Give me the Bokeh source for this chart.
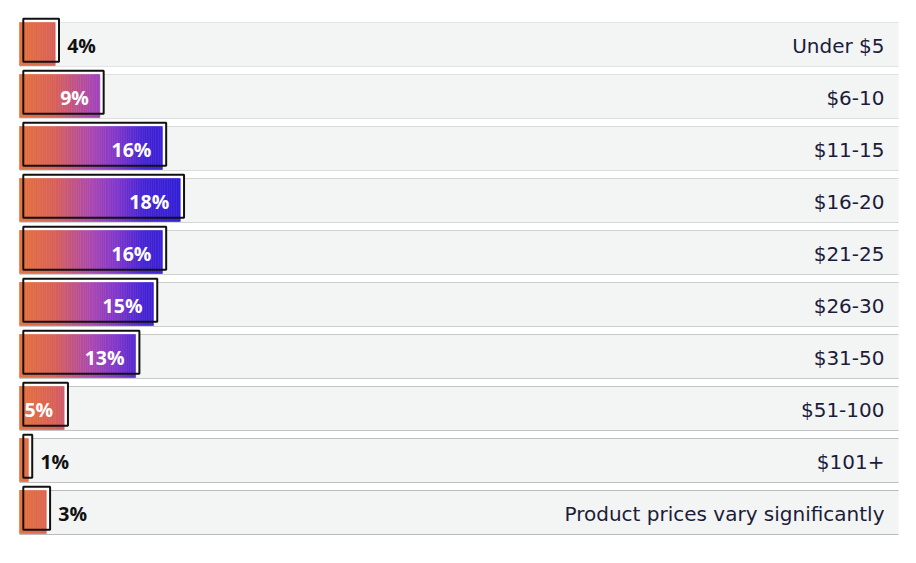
import math
from bokeh.plotting import figure
from bokeh.models import Range1d, ColumnDataSource
from bokeh.core.properties import value
from bokeh.embed import file_html
from bokeh.resources import INLINE

# ---- data ----
categories = ["Under $5", "$6-10", "$11-15", "$16-20", "$21-25", "$26-30",
              "$31-50", "$51-100", "$101+", "Product prices vary significantly"]
shares = [4, 9, 16, 18, 16, 15, 13, 5, 1, 3]
share_labels = ["4%", "9%", "16%", "18%", "16%", "15%", "13%", "5%", "1%", "3%"]

# ---- layout constants (pixels -> data units) ----
W, H = 900, 545
PX_PER_PCT = 8.93
ROW_PX = 52.0
x0 = -19.0 / PX_PER_PCT
x1 = x0 + W / PX_PER_PCT
y_top = (0 - 44) / ROW_PX
y_bot = (H - 44) / ROW_PX

p = figure(width=W, height=H, output_backend="svg", toolbar_location=None,
           x_range=Range1d(x0, x1), y_range=Range1d(y_bot, y_top),
           min_border=0, min_border_left=0, min_border_right=0,
           min_border_top=0, min_border_bottom=0)
p.axis.visible = False
p.grid.visible = False
p.outline_line_color = None
p.background_fill_color = "white"
p.border_fill_color = "white"

n = len(categories)
rows = list(range(n))
band_right = (898 - 19) / PX_PER_PCT
half_band = 22 / ROW_PX

# background bands
p.quad(left=[0] * n, right=[band_right] * n,
       top=[r - half_band for r in rows], bottom=[r + half_band for r in rows],
       fill_color="#f3f4f4", line_color=None)

# border lines (slightly darker toward the bottom)
def grey(i):
    g = int(round(0xe4 + (0xba - 0xe4) * i / (n - 1)))
    return "#%02x%02x%02x" % (g, g, g)

seg_y, seg_c = [], []
for r in rows:
    seg_y += [r - half_band, r + half_band]
    seg_c += [grey(r), grey(r)]
p.segment(x0=[0] * len(seg_y), x1=[band_right] * len(seg_y), y0=seg_y, y1=seg_y,
          line_color=seg_c, line_width=1.2)

# offset outline boxes
dx = 3.8 / PX_PER_PCT
dy = -3.8 / ROW_PX
fill_top = [r - half_band for r in rows]
fill_bot = [r + 21 / ROW_PX for r in rows]
ob = dict(left=[dx] * n, right=[v + dx for v in shares],
          top=[t + dy for t in fill_top], bottom=[b + dy for b in fill_bot])
p.quad(**ob, fill_color="white", line_color=None)

# gradient fill (by absolute position)
stops = [(0, (230, 114, 60)), (4, (216, 96, 88)), (8, (172, 72, 176)),
         (11, (126, 54, 204)), (14, (68, 36, 212)), (19, (45, 30, 215))]

def grad(x):
    for (a, ca), (b, cb) in zip(stops[:-1], stops[1:]):
        if x <= b:
            t = (x - a) / (b - a)
            c = [int(round(ca[k] + (cb[k] - ca[k]) * t)) for k in range(3)]
            return "#%02x%02x%02x" % tuple(c)
    return "#%02x%02x%02x" % stops[-1][1]

step = 0.2
sl, sr, st, sb, sc = [], [], [], [], []
for r, v in zip(rows, shares):
    k_max = int(math.ceil(v / step))
    for k in range(k_max):
        left = k * step
        right = min((k + 1) * step, v)
        sl.append(left)
        sr.append(right)
        st.append(fill_top[r])
        sb.append(fill_bot[r])
        sc.append(grad((left + right) / 2))
p.quad(left=sl, right=sr, top=st, bottom=sb, fill_color=sc, line_color=sc,
       line_width=0.6)

# black outline on top
p.quad(**ob, fill_color=None, line_color="#111111", line_width=2)

# value labels
inside = [v >= 5 for v in shares]
src_in = ColumnDataSource(dict(
    x=[v for v, i in zip(shares, inside) if i],
    y=[r + 1 / ROW_PX for r, i in zip(rows, inside) if i],
    t=[s for s, i in zip(share_labels, inside) if i]))
src_out = ColumnDataSource(dict(
    x=[v for v, i in zip(shares, inside) if not i],
    y=[r + 1 / ROW_PX for r, i in zip(rows, inside) if not i],
    t=[s for s, i in zip(share_labels, inside) if not i]))
p.text(x="x", y="y", text="t", source=src_in, text_align="right",
       text_baseline="middle", x_offset=-11, text_color="white",
       text_font=value("Open Sans"), text_font_style="bold",
       text_font_size="19.5px")
p.text(x="x", y="y", text="t", source=src_out, text_align="left",
       text_baseline="middle", x_offset=12, text_color="#111111",
       text_font=value("Open Sans"), text_font_style="bold",
       text_font_size="19.5px")

# category labels
cat_x = (884 - 19) / PX_PER_PCT
p.text(x=[cat_x] * n, y=[r + 1 / ROW_PX for r in rows], text=categories,
       text_align="right", text_baseline="middle", text_color="#1c1c3a",
       text_font=value("DejaVu Sans"), text_font_size="20px")

open("out.html", "w").write(file_html(p, INLINE))
